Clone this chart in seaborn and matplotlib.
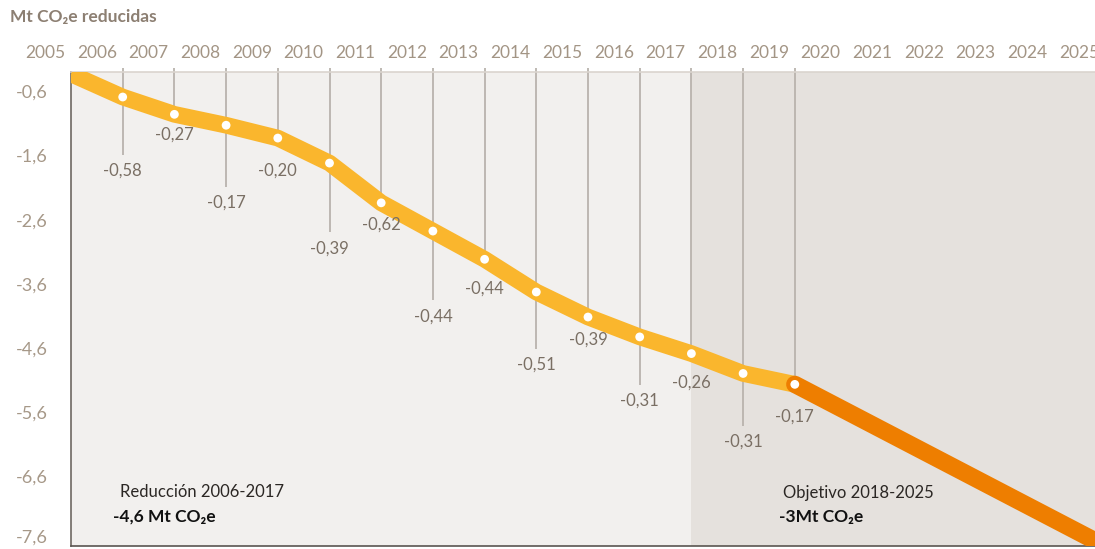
"""
Mt CO2e reducidas 2006-2019 y objetivo 2018-2025
"""

import pandas as pd
import matplotlib.pyplot as plt
import matplotlib.transforms as mtransforms
import seaborn as sns

# ============================
# Data
# ============================
years = [2006, 2007, 2008, 2009, 2010, 2011, 2012, 2013, 2014, 2015, 2016, 2017, 2018, 2019]
annual_reduction = [-0.58, -0.27, -0.17, -0.20, -0.39, -0.62, -0.44, -0.44, -0.51, -0.39, -0.31, -0.26, -0.31, -0.17]
cumulative = [-0.60, -0.87, -1.04, -1.24, -1.63, -2.25, -2.69, -3.13, -3.64, -4.03, -4.34, -4.60, -4.91, -5.08]
start_year = 2005
start_value = -0.24
target_years = [2019, 2025]
target_values = [-5.08, -7.60]
year_labels = ["2005", "2006", "2007", "2008", "2009", "2010", "2011", "2012", "2013", "2014",
               "2015", "2016", "2017", "2018", "2019", "2020", "2021", "2022", "2023", "2024", "2025"]
y_ticks = [-0.6, -1.6, -2.6, -3.6, -4.6, -5.6, -6.6, -7.6]

# where each value label sits (layout only)
label_y = [-1.75, -1.19, -2.25, -1.74, -2.96, -2.59, -4.02, -3.59, -4.78, -4.39, -5.34, -5.05, -5.98, -5.58]

df = pd.DataFrame({"year": [start_year] + years, "value": [start_value] + cumulative})
df_target = pd.DataFrame({"year": target_years, "value": target_values})
df_points = pd.DataFrame({"year": years, "value": cumulative})

# ============================
# Style
# ============================
sns.set_style("white")
plt.rcParams["font.family"] = ["Lato", "DejaVu Sans"]

YELLOW = "#FAB62D"
ORANGE = "#EE7E00"
STEM = "#B9B3AD"
BG_LEFT = "#F2F0EE"
BG_RIGHT = "#E5E1DD"

fig = plt.figure(figsize=(10.95, 5.49), dpi=100)
ax = fig.add_axes([71 / 1095, 3 / 549, 1024 / 1095, 474 / 549])
ax.set_facecolor(BG_LEFT)

x_min, x_max = 2005, 2005 + 1024 / 51.7
y_min, y_max = -7.58, -0.21
ax.set_xlim(x_min, x_max)
ax.set_ylim(y_min, y_max)

# objective period shading
ax.axvspan(2017, 2026, color=BG_RIGHT, lw=0, zorder=0)

# ============================
# Stems
# ============================
for i, (yr, val, ly) in enumerate(zip(years, cumulative, label_y)):
    bottom = ly + 0.25 if i % 2 == 0 else val
    ax.vlines(yr, bottom, y_max + 0.06, color=STEM, lw=1.3, zorder=1, clip_on=False)

# ============================
# Lines
# ============================
sns.lineplot(data=df, x="year", y="value", ax=ax, color=YELLOW, lw=12,
             solid_capstyle="butt", solid_joinstyle="round", zorder=3)
sns.lineplot(data=df_target, x="year", y="value", ax=ax, color=ORANGE, lw=12.5,
             solid_capstyle="round", zorder=4)
sns.scatterplot(data=df_points, x="year", y="value", ax=ax, color="white", s=40,
                edgecolor="none", zorder=5)

# ============================
# Value labels
# ============================
for yr, red, ly in zip(years, annual_reduction, label_y):
    ax.text(yr, ly, f"{red:.2f}".replace(".", ","), ha="center", va="center",
            fontsize=12, color="#7A6F64", zorder=6)

# ============================
# Axes formatting
# ============================
ax.set_xlabel("")
ax.set_ylabel("")
ax.set_xticks([])
ax.set_yticks(y_ticks)
ax.set_yticklabels([f"{t:.1f}".replace(".", ",") for t in y_ticks])
ax.tick_params(axis="y", direction="inout", length=13, width=1, color="#CFC8C0",
               labelcolor="#A69888", labelsize=13, pad=10)

# tick labels sit a little above their ticks
for i, lab in enumerate(ax.get_yticklabels()):
    shift = 7 / 72 if i == len(y_ticks) - 1 else 4 / 72
    lab.set_transform(lab.get_transform() +
                      mtransforms.ScaledTranslation(0, shift, fig.dpi_scale_trans))

for i, lab in enumerate(year_labels):
    ax.text(2004.5 + i, 1.04, lab, transform=ax.get_xaxis_transform(), ha="center",
            va="center", fontsize=12.5, color="#A39585", clip_on=False)

ax.spines["right"].set_visible(False)
ax.spines["top"].set_color("#DAD4CE")
ax.spines["top"].set_linewidth(1.2)
ax.spines["left"].set_color("#6E6862")
ax.spines["left"].set_linewidth(1.2)
ax.spines["bottom"].set_color("#5A5550")
ax.spines["bottom"].set_linewidth(1.2)

# ============================
# Titles and notes
# ============================
fig.text(10 / 1095, 1 - 17 / 549, "Mt CO₂e reducidas", ha="left", va="center",
         fontsize=12.5, fontweight="bold", color="#8C7F72")

fig.text(120 / 1095, 1 - 492 / 549, "Reducción 2006-2017", ha="left", va="center",
         fontsize=12, color="#2B2724")
fig.text(113 / 1095, 1 - 517 / 549, "-4,6 Mt CO₂e", ha="left", va="center",
         fontsize=12.5, fontweight="bold", color="#111111")
fig.text(783 / 1095, 1 - 493 / 549, "Objetivo 2018-2025", ha="left", va="center",
         fontsize=12, color="#2B2724")
fig.text(779 / 1095, 1 - 517 / 549, "-3Mt CO₂e", ha="left", va="center",
         fontsize=12.5, fontweight="bold", color="#111111")

fig.savefig("out.png", dpi=100)
